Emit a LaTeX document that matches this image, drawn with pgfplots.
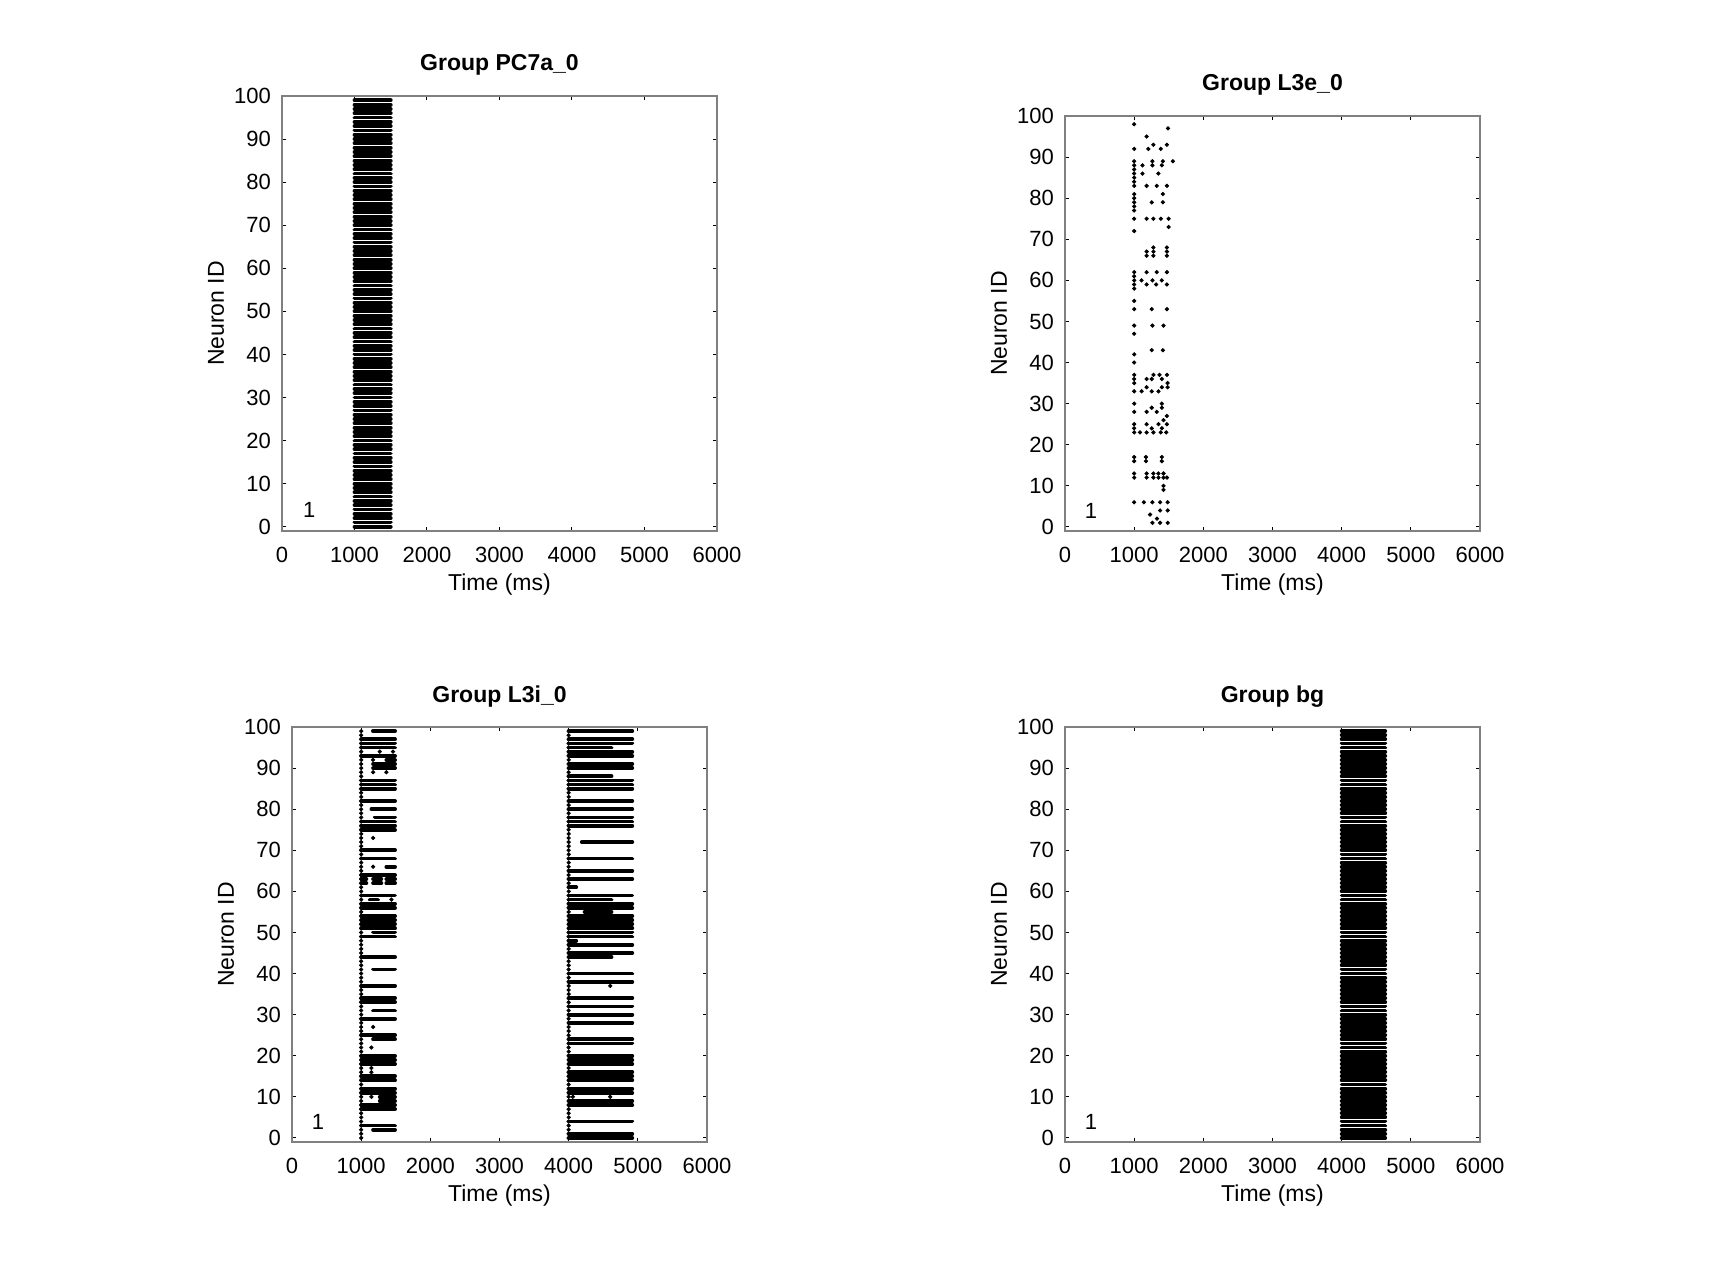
\documentclass[border=0pt]{standalone}
\usepackage{fontspec}
\setmainfont{Liberation Sans}
\usepackage{pgfplots}
\pgfplotsset{compat=1.18}

\pgfplotsset{
  raster/.style={
    scale only axis,
    xmin=0, xmax=6000, ymin=-1, ymax=100,
    xtick={0,1000,2000,3000,4000,5000,6000},
    ytick={0,10,20,30,40,50,60,70,80,90,100},
    tick align=inside,
    major tick length=2.2pt,
    axis line style={draw=black!50, line width=0.6pt},
    tick style={black, line width=0.5pt},
    /pgf/number format/assume math mode=true,
    /pgf/number format/set thousands separator={},
    scaled ticks=false,
    tick label style={font=\fontsize{11}{13}\selectfont},
    xticklabel style={yshift=-4.6pt},
    yticklabel style={xshift=-2pt},
    every axis title/.style={at={(axis description cs:0.5,1)}, yshift=15.4pt, anchor=center,
      font=\fontsize{11.5}{14}\selectfont\bfseries},
    every axis x label/.style={at={(axis description cs:0.5,0)}, yshift=-27pt, anchor=center,
      font=\fontsize{11.5}{13}\selectfont},
    every axis y label/.style={at={(axis description cs:0,0.5)}, xshift=-33pt, rotate=90, anchor=center,
      font=\fontsize{11.5}{13}\selectfont},
    xlabel={Time (ms)}, ylabel={Neuron ID},
    unbounded coords=jump,
  },
  seg/.style={black, line width=1.9pt, line cap=round, mark=none},
  dot/.style={black, only marks, mark=*, mark size=0.85pt},
}

\begin{document}
\begin{tikzpicture}
\useasboundingbox (0,0) rectangle (856pt,-641pt);

% ---- Group PC7a_0
\begin{axis}[raster, at={(141pt,-265.5pt)}, anchor=south west,
  width=217.5pt, height=217.5pt, title={Group PC7a\_0}]
\addplot[seg] table[row sep=\\] {
x y\\
1000 0\\1500 0\\nan nan\\ 1000 1\\1500 1\\nan nan\\ 1000 2\\1500 2\\nan nan\\ 1000 3\\1500 3\\nan nan\\ 1000 4\\1500 4\\nan nan\\
1000 5\\1500 5\\nan nan\\ 1000 6\\1500 6\\nan nan\\ 1000 7\\1500 7\\nan nan\\ 1000 8\\1500 8\\nan nan\\ 1000 9\\1500 9\\nan nan\\
1000 10\\1500 10\\nan nan\\ 1000 11\\1500 11\\nan nan\\ 1000 12\\1500 12\\nan nan\\ 1000 13\\1500 13\\nan nan\\ 1000 14\\1500 14\\nan nan\\
1000 15\\1500 15\\nan nan\\ 1000 16\\1500 16\\nan nan\\ 1000 17\\1500 17\\nan nan\\ 1000 18\\1500 18\\nan nan\\ 1000 19\\1500 19\\nan nan\\
1000 20\\1500 20\\nan nan\\ 1000 21\\1500 21\\nan nan\\ 1000 22\\1500 22\\nan nan\\ 1000 23\\1500 23\\nan nan\\ 1000 24\\1500 24\\nan nan\\
1000 25\\1500 25\\nan nan\\ 1000 26\\1500 26\\nan nan\\ 1000 27\\1500 27\\nan nan\\ 1000 28\\1500 28\\nan nan\\ 1000 29\\1500 29\\nan nan\\
1000 30\\1500 30\\nan nan\\ 1000 31\\1500 31\\nan nan\\ 1000 32\\1500 32\\nan nan\\ 1000 33\\1500 33\\nan nan\\ 1000 34\\1500 34\\nan nan\\
1000 35\\1500 35\\nan nan\\ 1000 36\\1500 36\\nan nan\\ 1000 37\\1500 37\\nan nan\\ 1000 38\\1500 38\\nan nan\\ 1000 39\\1500 39\\nan nan\\
1000 40\\1500 40\\nan nan\\ 1000 41\\1500 41\\nan nan\\ 1000 42\\1500 42\\nan nan\\ 1000 43\\1500 43\\nan nan\\ 1000 44\\1500 44\\nan nan\\
1000 45\\1500 45\\nan nan\\ 1000 46\\1500 46\\nan nan\\ 1000 47\\1500 47\\nan nan\\ 1000 48\\1500 48\\nan nan\\ 1000 49\\1500 49\\nan nan\\
1000 50\\1500 50\\nan nan\\ 1000 51\\1500 51\\nan nan\\ 1000 52\\1500 52\\nan nan\\ 1000 53\\1500 53\\nan nan\\ 1000 54\\1500 54\\nan nan\\
1000 55\\1500 55\\nan nan\\ 1000 56\\1500 56\\nan nan\\ 1000 57\\1500 57\\nan nan\\ 1000 58\\1500 58\\nan nan\\ 1000 59\\1500 59\\nan nan\\
1000 60\\1500 60\\nan nan\\ 1000 61\\1500 61\\nan nan\\ 1000 62\\1500 62\\nan nan\\ 1000 63\\1500 63\\nan nan\\ 1000 64\\1500 64\\nan nan\\
1000 65\\1500 65\\nan nan\\ 1000 66\\1500 66\\nan nan\\ 1000 67\\1500 67\\nan nan\\ 1000 68\\1500 68\\nan nan\\ 1000 69\\1500 69\\nan nan\\
1000 70\\1500 70\\nan nan\\ 1000 71\\1500 71\\nan nan\\ 1000 72\\1500 72\\nan nan\\ 1000 73\\1500 73\\nan nan\\ 1000 74\\1500 74\\nan nan\\
1000 75\\1500 75\\nan nan\\ 1000 76\\1500 76\\nan nan\\ 1000 77\\1500 77\\nan nan\\ 1000 78\\1500 78\\nan nan\\ 1000 79\\1500 79\\nan nan\\
1000 80\\1500 80\\nan nan\\ 1000 81\\1500 81\\nan nan\\ 1000 82\\1500 82\\nan nan\\ 1000 83\\1500 83\\nan nan\\ 1000 84\\1500 84\\nan nan\\
1000 85\\1500 85\\nan nan\\ 1000 86\\1500 86\\nan nan\\ 1000 87\\1500 87\\nan nan\\ 1000 88\\1500 88\\nan nan\\ 1000 89\\1500 89\\nan nan\\
1000 90\\1500 90\\nan nan\\ 1000 91\\1500 91\\nan nan\\ 1000 92\\1500 92\\nan nan\\ 1000 93\\1500 93\\nan nan\\ 1000 94\\1500 94\\nan nan\\
1000 95\\1500 95\\nan nan\\ 1000 96\\1500 96\\nan nan\\ 1000 97\\1500 97\\nan nan\\ 1000 98\\1500 98\\nan nan\\ 1000 99\\1500 99\\nan nan\\
};
\node[font=\fontsize{11}{13}\selectfont] at (axis cs:375,4) {1};
\end{axis}

% ---- Group L3e_0
\begin{axis}[raster, at={(532.5pt,-265.5pt)}, anchor=south west,
  width=207.5pt, height=207.5pt, title={Group L3e\_0}]
\addplot[dot] coordinates {
(1000,98) (1490,97) (1180,95)
(1000,92) (1205,92) (1278,93) (1385,92) (1473,93)
(1000,89) (1000,88) (1000,87) (1120,88) (1264,89) (1264,88) (1400,88) (1415,89) (1560,89)
(1000,86) (1000,85) (1120,86) (1350,86)
(1000,84) (1000,83) (1180,83) (1327,83) (1473,83)
(1000,81) (1415,81)
(1000,80) (1000,79) (1000,78) (1000,77) (1254,79) (1415,79)
(1000,75) (1180,75) (1278,75) (1385,75) (1498,75)
(1000,72) (1498,73)
(1180,67) (1180,66) (1278,68) (1278,67) (1278,66) (1473,68) (1473,67) (1473,66)
(1000,62) (1000,61) (1000,60) (1000,59) (1000,58) (1180,62) (1327,62) (1473,62)
(1107,60) (1180,59) (1264,60) (1317,59) (1400,60) (1473,59)
(1000,55) (1000,53) (1254,53) (1473,53)
(1000,49) (1000,47) (1264,49) (1424,49)
(1254,43) (1415,43) (1000,42) (1000,40)
(1000,37) (1000,36) (1000,35) (1180,36) (1254,36) (1278,37) (1366,37) (1400,36) (1473,37) (1483,35)
(1000,33) (1107,33) (1254,33) (1351,33) (1483,34) (1180,34) (1400,34)
(1000,30) (1000,28) (1180,28) (1254,29) (1327,28) (1400,29) (1400,30) (1473,27)
(1000,25) (1000,24) (1180,25) (1254,24) (1351,25) (1400,24) (1424,26) (1473,25)
(1000,23) (1083,23) (1180,23) (1278,23) (1385,23) (1464,23)
(1000,17) (1000,16) (1170,17) (1170,16) (1400,17) (1400,16)
(1000,13) (1000,12) (1180,13) (1180,12) (1278,13) (1278,12) (1351,13) (1351,12) (1424,13) (1424,12) (1473,12)
(1424,10) (1424,9)
(1000,6) (1140,6) (1264,6) (1374,6) (1485,6)
(1230,3) (1374,4) (1485,4) (1330,2) (1264,1) (1374,1) (1485,1)
};
\node[font=\fontsize{11}{13}\selectfont] at (axis cs:375,4) {1};
\end{axis}

% ---- Group L3i_0
\begin{axis}[raster, at={(146pt,-571pt)}, anchor=south west,
  width=207.5pt, height=207.5pt, title={Group L3i\_0}]
\addplot[seg] table[row sep=\\] {
x y\\
1170 99\\1490 99\\nan nan\\ 1000 97\\1490 97\\nan nan\\ 1000 96\\1490 96\\nan nan\\ 1000 95\\1490 95\\nan nan\\
1000 93\\1490 93\\nan nan\\ 1364 92\\1490 92\\nan nan\\ 1172 91\\1490 91\\nan nan\\ 1172 90\\1490 90\\nan nan\\
1000 87\\1490 87\\nan nan\\ 1000 86\\1490 86\\nan nan\\ 1000 85\\1490 85\\nan nan\\ 1000 82\\1490 82\\nan nan\\
1148 80\\1490 80\\nan nan\\ 1196 78\\1490 78\\nan nan\\ 1000 77\\1490 77\\nan nan\\ 1000 76\\1490 76\\nan nan\\
1000 75\\1490 75\\nan nan\\ 1000 70\\1490 70\\nan nan\\ 1000 68\\1490 68\\nan nan\\ 1364 66\\1490 66\\nan nan\\
1000 64\\1490 64\\nan nan\\ 1000 63\\1075 63\\nan nan\\ 1172 63\\1292 63\\nan nan\\ 1364 63\\1490 63\\nan nan\\
1000 62\\1075 62\\nan nan\\ 1172 62\\1292 62\\nan nan\\ 1364 62\\1490 62\\nan nan\\ 1000 59\\1490 59\\nan nan\\
1123 58\\1244 58\\nan nan\\ 1000 57\\1490 57\\nan nan\\ 1000 56\\1490 56\\nan nan\\ 1000 54\\1490 54\\nan nan\\
1000 53\\1490 53\\nan nan\\ 1000 52\\1490 52\\nan nan\\ 1000 51\\1490 51\\nan nan\\ 1172 50\\1490 50\\nan nan\\
1000 49\\1490 49\\nan nan\\ 1000 44\\1490 44\\nan nan\\ 1172 41\\1490 41\\nan nan\\ 1000 37\\1490 37\\nan nan\\
1000 34\\1490 34\\nan nan\\ 1000 33\\1490 33\\nan nan\\ 1172 31\\1490 31\\nan nan\\ 1000 29\\1490 29\\nan nan\\
1000 25\\1490 25\\nan nan\\ 1172 24\\1490 24\\nan nan\\ 1000 20\\1490 20\\nan nan\\ 1000 19\\1490 19\\nan nan\\
1000 18\\1490 18\\nan nan\\ 1000 15\\1490 15\\nan nan\\ 1000 14\\1490 14\\nan nan\\ 1000 12\\1490 12\\nan nan\\
1000 11\\1490 11\\nan nan\\ 1268 10\\1490 10\\nan nan\\ 1268 9\\1490 9\\nan nan\\ 1000 8\\1490 8\\nan nan\\
1000 7\\1490 7\\nan nan\\ 1000 3\\1490 3\\nan nan\\ 1172 2\\1490 2\\nan nan\\
4000 99\\4920 99\\nan nan\\ 4000 97\\4920 97\\nan nan\\ 4000 96\\4920 96\\nan nan\\ 4000 95\\4620 95\\nan nan\\
4000 94\\4920 94\\nan nan\\ 4000 93\\4920 93\\nan nan\\ 4000 91\\4920 91\\nan nan\\ 4000 90\\4920 90\\nan nan\\
4000 88\\4620 88\\nan nan\\ 4000 87\\4920 87\\nan nan\\ 4000 86\\4920 86\\nan nan\\ 4000 85\\4920 85\\nan nan\\
4000 82\\4920 82\\nan nan\\ 4000 80\\4920 80\\nan nan\\ 4000 78\\4920 78\\nan nan\\ 4000 77\\4920 77\\nan nan\\
4000 76\\4920 76\\nan nan\\ 4190 72\\4920 72\\nan nan\\ 4000 68\\4920 68\\nan nan\\ 4000 65\\4920 65\\nan nan\\
4000 63\\4920 63\\nan nan\\ 4000 61\\4110 61\\nan nan\\ 4000 59\\4920 59\\nan nan\\ 4000 58\\4620 58\\nan nan\\
4000 57\\4920 57\\nan nan\\ 4000 56\\4920 56\\nan nan\\ 4230 55\\4620 55\\nan nan\\ 4000 54\\4920 54\\nan nan\\
4000 53\\4920 53\\nan nan\\ 4000 52\\4920 52\\nan nan\\ 4000 51\\4920 51\\nan nan\\ 4000 50\\4920 50\\nan nan\\
4000 49\\4920 49\\nan nan\\ 4000 48\\4110 48\\nan nan\\ 4000 47\\4920 47\\nan nan\\ 4000 45\\4920 45\\nan nan\\
4000 44\\4620 44\\nan nan\\ 4000 40\\4920 40\\nan nan\\ 4000 38\\4920 38\\nan nan\\ 4000 34\\4920 34\\nan nan\\
4000 32\\4920 32\\nan nan\\ 4000 30\\4920 30\\nan nan\\ 4000 28\\4920 28\\nan nan\\ 4000 24\\4920 24\\nan nan\\
4000 23\\4920 23\\nan nan\\ 4000 20\\4920 20\\nan nan\\ 4000 19\\4920 19\\nan nan\\ 4000 18\\4920 18\\nan nan\\
4000 16\\4920 16\\nan nan\\ 4000 15\\4920 15\\nan nan\\ 4000 14\\4920 14\\nan nan\\ 4000 12\\4920 12\\nan nan\\
4000 11\\4920 11\\nan nan\\ 4000 9\\4920 9\\nan nan\\ 4000 8\\4920 8\\nan nan\\ 4000 4\\4920 4\\nan nan\\
4000 1\\4920 1\\nan nan\\ 4000 0\\4920 0\\nan nan\\
};
\addplot[dot] coordinates {
(1268,94) (1460,94) (1172,92) (1172,89) (1364,89) (1172,73) (1172,66) (1437,58)
(1172,27) (1148,22) (1148,17) (1148,16) (1148,10) (4600,37) (4600,10) (4060,10)
};
% first spike of every neuron in each burst
\addplot[dot] coordinates {
(1000,0) (1000,1) (1000,2) (1000,3) (1000,4) (1000,5) (1000,6) (1000,7) (1000,8) (1000,9)
(1000,10) (1000,11) (1000,12) (1000,13) (1000,14) (1000,15) (1000,16) (1000,17) (1000,18) (1000,19)
(1000,20) (1000,21) (1000,22) (1000,23) (1000,24) (1000,25) (1000,26) (1000,27) (1000,28) (1000,29)
(1000,30) (1000,31) (1000,32) (1000,33) (1000,34) (1000,35) (1000,36) (1000,37) (1000,38) (1000,39)
(1000,40) (1000,41) (1000,42) (1000,43) (1000,44) (1000,45) (1000,46) (1000,47) (1000,48) (1000,49)
(1000,50) (1000,51) (1000,52) (1000,53) (1000,54) (1000,55) (1000,56) (1000,57) (1000,58) (1000,59)
(1000,60) (1000,61) (1000,62) (1000,63) (1000,64) (1000,65) (1000,66) (1000,67) (1000,68) (1000,69)
(1000,70) (1000,71) (1000,72) (1000,73) (1000,74) (1000,75) (1000,76) (1000,77) (1000,78) (1000,79)
(1000,80) (1000,81) (1000,82) (1000,83) (1000,84) (1000,85) (1000,86) (1000,87) (1000,88) (1000,89)
(1000,90) (1000,91) (1000,92) (1000,93) (1000,94) (1000,95) (1000,96) (1000,97) (1000,98) (1000,99)
(4000,0) (4000,1) (4000,2) (4000,3) (4000,4) (4000,5) (4000,6) (4000,7) (4000,8) (4000,9)
(4000,10) (4000,11) (4000,12) (4000,13) (4000,14) (4000,15) (4000,16) (4000,17) (4000,18) (4000,19)
(4000,20) (4000,21) (4000,22) (4000,23) (4000,24) (4000,25) (4000,26) (4000,27) (4000,28) (4000,29)
(4000,30) (4000,31) (4000,32) (4000,33) (4000,34) (4000,35) (4000,36) (4000,37) (4000,38) (4000,39)
(4000,40) (4000,41) (4000,42) (4000,43) (4000,44) (4000,45) (4000,46) (4000,47) (4000,48) (4000,49)
(4000,50) (4000,51) (4000,52) (4000,53) (4000,54) (4000,55) (4000,56) (4000,57) (4000,58) (4000,59)
(4000,60) (4000,61) (4000,62) (4000,63) (4000,64) (4000,65) (4000,66) (4000,67) (4000,68) (4000,69)
(4000,70) (4000,71) (4000,72) (4000,73) (4000,74) (4000,75) (4000,76) (4000,77) (4000,78) (4000,79)
(4000,80) (4000,81) (4000,82) (4000,83) (4000,84) (4000,85) (4000,86) (4000,87) (4000,88) (4000,89)
(4000,90) (4000,91) (4000,92) (4000,93) (4000,94) (4000,95) (4000,96) (4000,97) (4000,98) (4000,99)
};
\node[font=\fontsize{11}{13}\selectfont] at (axis cs:375,4) {1};
\end{axis}

% ---- Group bg
\begin{axis}[raster, at={(532.5pt,-571pt)}, anchor=south west,
  width=207.5pt, height=207.5pt, title={Group bg}]
\addplot[seg] table[row sep=\\] {
x y\\
4000 0\\4630 0\\nan nan\\ 4000 1\\4630 1\\nan nan\\ 4000 2\\4630 2\\nan nan\\ 4000 3\\4630 3\\nan nan\\ 4000 4\\4630 4\\nan nan\\
4000 5\\4630 5\\nan nan\\ 4000 6\\4630 6\\nan nan\\ 4000 7\\4630 7\\nan nan\\ 4000 8\\4630 8\\nan nan\\ 4000 9\\4630 9\\nan nan\\
4000 10\\4630 10\\nan nan\\ 4000 11\\4630 11\\nan nan\\ 4000 12\\4630 12\\nan nan\\ 4000 13\\4630 13\\nan nan\\ 4000 14\\4630 14\\nan nan\\
4000 15\\4630 15\\nan nan\\ 4000 16\\4630 16\\nan nan\\ 4000 17\\4630 17\\nan nan\\ 4000 18\\4630 18\\nan nan\\ 4000 19\\4630 19\\nan nan\\
4000 20\\4630 20\\nan nan\\ 4000 21\\4630 21\\nan nan\\ 4000 22\\4630 22\\nan nan\\ 4000 23\\4630 23\\nan nan\\ 4000 24\\4630 24\\nan nan\\
4000 25\\4630 25\\nan nan\\ 4000 26\\4630 26\\nan nan\\ 4000 27\\4630 27\\nan nan\\ 4000 28\\4630 28\\nan nan\\ 4000 29\\4630 29\\nan nan\\
4000 30\\4630 30\\nan nan\\ 4000 31\\4630 31\\nan nan\\ 4000 32\\4630 32\\nan nan\\ 4000 33\\4630 33\\nan nan\\ 4000 34\\4630 34\\nan nan\\
4000 35\\4630 35\\nan nan\\ 4000 36\\4630 36\\nan nan\\ 4000 37\\4630 37\\nan nan\\ 4000 38\\4630 38\\nan nan\\ 4000 39\\4630 39\\nan nan\\
4000 40\\4630 40\\nan nan\\ 4000 41\\4630 41\\nan nan\\ 4000 42\\4630 42\\nan nan\\ 4000 43\\4630 43\\nan nan\\ 4000 44\\4630 44\\nan nan\\
4000 45\\4630 45\\nan nan\\ 4000 46\\4630 46\\nan nan\\ 4000 47\\4630 47\\nan nan\\ 4000 48\\4630 48\\nan nan\\ 4000 49\\4630 49\\nan nan\\
4000 50\\4630 50\\nan nan\\ 4000 51\\4630 51\\nan nan\\ 4000 52\\4630 52\\nan nan\\ 4000 53\\4630 53\\nan nan\\ 4000 54\\4630 54\\nan nan\\
4000 55\\4630 55\\nan nan\\ 4000 56\\4630 56\\nan nan\\ 4000 57\\4630 57\\nan nan\\ 4000 58\\4630 58\\nan nan\\ 4000 59\\4630 59\\nan nan\\
4000 60\\4630 60\\nan nan\\ 4000 61\\4630 61\\nan nan\\ 4000 62\\4630 62\\nan nan\\ 4000 63\\4630 63\\nan nan\\ 4000 64\\4630 64\\nan nan\\
4000 65\\4630 65\\nan nan\\ 4000 66\\4630 66\\nan nan\\ 4000 67\\4630 67\\nan nan\\ 4000 68\\4630 68\\nan nan\\ 4000 69\\4630 69\\nan nan\\
4000 70\\4630 70\\nan nan\\ 4000 71\\4630 71\\nan nan\\ 4000 72\\4630 72\\nan nan\\ 4000 73\\4630 73\\nan nan\\ 4000 74\\4630 74\\nan nan\\
4000 75\\4630 75\\nan nan\\ 4000 76\\4630 76\\nan nan\\ 4000 77\\4630 77\\nan nan\\ 4000 78\\4630 78\\nan nan\\ 4000 79\\4630 79\\nan nan\\
4000 80\\4630 80\\nan nan\\ 4000 81\\4630 81\\nan nan\\ 4000 82\\4630 82\\nan nan\\ 4000 83\\4630 83\\nan nan\\ 4000 84\\4630 84\\nan nan\\
4000 85\\4630 85\\nan nan\\ 4000 86\\4630 86\\nan nan\\ 4000 87\\4630 87\\nan nan\\ 4000 88\\4630 88\\nan nan\\ 4000 89\\4630 89\\nan nan\\
4000 90\\4630 90\\nan nan\\ 4000 91\\4630 91\\nan nan\\ 4000 92\\4630 92\\nan nan\\ 4000 93\\4630 93\\nan nan\\ 4000 94\\4630 94\\nan nan\\
4000 95\\4630 95\\nan nan\\ 4000 96\\4630 96\\nan nan\\ 4000 97\\4630 97\\nan nan\\ 4000 98\\4630 98\\nan nan\\ 4000 99\\4630 99\\nan nan\\
};
\node[font=\fontsize{11}{13}\selectfont] at (axis cs:375,4) {1};
\end{axis}
\end{tikzpicture}
\end{document}
